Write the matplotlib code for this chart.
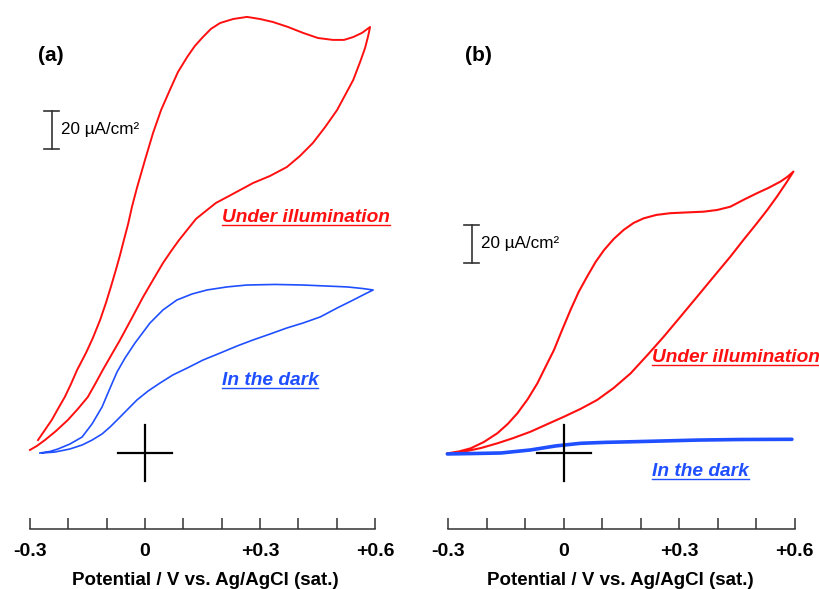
import matplotlib
matplotlib.use("Agg")
import matplotlib.pyplot as plt
from matplotlib.lines import Line2D

plt.rcParams['font.family'] = ['Liberation Sans', 'DejaVu Sans']

# potencial (V) a proudová hustota (uA/cm2)
# (a) pod osvětlením: dopředný a zpětný sken
a_red_fwd_v = [-0.279, -0.261, -0.243, -0.227, -0.209, -0.193, -0.177, -0.154, -0.136, -0.117,
               -0.102, -0.089, -0.076, -0.065, -0.055, -0.044, -0.034, -0.021, 0.000, 0.021,
               0.042, 0.065, 0.086, 0.110, 0.130, 0.151, 0.172, 0.196, 0.230, 0.266,
               0.300, 0.334, 0.373, 0.412, 0.451, 0.490, 0.519, 0.543, 0.566, 0.587]
a_red_fwd_i = [6.8, 12.1, 17.4, 23.2, 29.5, 36.3, 43.7, 52.6, 60.5, 70.0,
               78.9, 87.4, 96.3, 104.2, 112.1, 120.5, 129.5, 139.5, 154.2, 168.4,
               180.5, 191.1, 200.5, 208.4, 214.2, 218.9, 223.2, 226.3, 228.4, 229.5,
               228.4, 226.8, 224.2, 221.1, 218.4, 217.4, 217.4, 218.9, 221.1, 224.2]
a_red_back_v = [0.582, 0.574, 0.561, 0.543, 0.522, 0.501, 0.470, 0.438, 0.404, 0.370,
                0.326, 0.282, 0.248, 0.214, 0.185, 0.162, 0.133, 0.110, 0.089, 0.070,
                0.047, 0.021, -0.005, -0.034, -0.065, -0.089, -0.110, -0.130, -0.149, -0.175,
                -0.201, -0.232, -0.261, -0.282, -0.300]
a_red_back_i = [219.5, 213.2, 205.8, 196.3, 188.4, 180.5, 171.6, 163.2, 156.3, 150.5,
                145.8, 142.1, 138.4, 134.7, 131.6, 127.9, 123.2, 117.4, 112.1, 106.8,
                100.0, 91.1, 82.1, 71.1, 59.5, 51.1, 43.7, 36.3, 29.5, 23.2,
                17.4, 11.6, 6.8, 3.7, 1.6]

# (a) ve tmě
a_blue_fwd_v = [-0.274, -0.248, -0.227, -0.196, -0.164, -0.138, -0.112, -0.091, -0.073, -0.052,
                -0.026, 0.013, 0.047, 0.083, 0.123, 0.162, 0.214, 0.266, 0.339, 0.412,
                0.470, 0.527, 0.566, 0.595]
a_blue_fwd_i = [0.0, 0.8, 2.1, 4.7, 8.4, 15.3, 24.2, 34.2, 42.6, 50.0,
                57.9, 68.4, 75.3, 80.5, 83.7, 85.8, 87.4, 88.4, 88.7, 88.4,
                87.9, 87.4, 86.6, 85.8]
a_blue_back_v = [0.569, 0.543, 0.501, 0.457, 0.412, 0.370, 0.326, 0.282, 0.240, 0.196,
                 0.151, 0.110, 0.073, 0.039, 0.008, -0.021, -0.047, -0.070, -0.091, -0.112,
                 -0.138, -0.164, -0.196, -0.235, -0.269]
a_blue_back_i = [83.2, 80.5, 76.3, 71.6, 68.4, 65.8, 62.6, 59.5, 56.3, 52.6,
                 48.9, 44.7, 41.1, 36.8, 32.6, 27.9, 22.6, 17.9, 13.7, 10.0,
                 6.8, 4.2, 2.1, 0.5, 0.0]

# (b) pod osvětlením
b_red_fwd_v = [-0.302, -0.272, -0.241, -0.207, -0.172, -0.145, -0.120, -0.093, -0.068, -0.047,
               -0.025, -0.005, 0.018, 0.039, 0.061, 0.083, 0.105, 0.130, 0.156, 0.182,
               0.208, 0.241, 0.277, 0.319, 0.364, 0.399, 0.433, 0.467, 0.502, 0.532,
               0.563, 0.581, 0.597]
b_red_fwd_i = [-0.2, 0.8, 2.5, 5.8, 10.4, 15.3, 20.9, 28.4, 36.7, 45.3,
               54.2, 64.2, 75.3, 84.7, 92.8, 100.5, 106.8, 112.6, 117.4, 121.1,
               123.5, 125.3, 126.2, 126.6, 127.0, 127.9, 129.6, 133.2, 136.7, 139.5,
               142.8, 145.3, 148.1]
b_red_back_v = [0.578, 0.554, 0.529, 0.502, 0.467, 0.433, 0.389, 0.347, 0.303, 0.260,
                0.218, 0.174, 0.130, 0.087, 0.044, 0.001, -0.041, -0.086, -0.130, -0.172,
                -0.215, -0.259, -0.302]
b_red_back_i = [142.1, 134.9, 127.9, 120.9, 112.1, 103.3, 92.6, 82.3, 71.6, 61.2,
                51.6, 41.9, 34.2, 27.9, 23.2, 19.1, 15.3, 11.2, 7.9, 5.1,
                2.6, 0.7, -0.5]

# (b) ve tmě
b_blue_v = [-0.302, -0.241, -0.163, -0.086, -0.021, 0.044, 0.109, 0.174, 0.252, 0.347, 0.459, 0.593]
b_blue_i = [-0.5, -0.3, 0.0, 1.6, 3.7, 5.1, 5.6, 5.9, 6.3, 6.8, 7.1, 7.2]

tick_vals = [-0.3, -0.2, -0.1, 0.0, 0.1, 0.2, 0.3, 0.4, 0.5, 0.6]
tick_labels = ['-0.3', '', '', '0', '', '', '+0.3', '', '', '+0.6']

RED = '#ff1010'
BLUE = '#1f4fff'

W, H = 819, 589
fig = plt.figure(figsize=(W / 100, H / 100), dpi=100)

ax_a = fig.add_axes([10 / W, 60 / H, 390 / W, 529 / H])
ax_b = fig.add_axes([425 / W, 60 / H, 390 / W, 529 / H])

ax_a.set_xlim(-0.352, 0.665)
ax_b.set_xlim(-0.360, 0.653)
for ax in (ax_a, ax_b):
    ax.set_ylim(-40, 238.4)
    for s in ('top', 'right', 'left'):
        ax.spines[s].set_visible(False)
    ax.spines['bottom'].set_bounds(-0.3, 0.6)
    ax.spines['bottom'].set_color('#333333')
    ax.spines['bottom'].set_linewidth(1.1)
    ax.set_yticks([])
    ax.set_xticks(tick_vals)
    ax.set_xticklabels(tick_labels, fontsize=14, fontweight='bold')
    ax.tick_params(axis='x', direction='in', length=8, width=1.1, color='#333333', pad=10)
    ax.set_xlabel('Potential / V vs. Ag/AgCl (sat.)', fontsize=13.5, fontweight='bold', labelpad=8.5)
    ax.patch.set_alpha(0)

# (a)
ax_a.plot(a_red_fwd_v + a_red_back_v, a_red_fwd_i + a_red_back_i, color=RED, lw=1.4)
ax_a.plot(a_blue_fwd_v + a_blue_back_v, a_blue_fwd_i + a_blue_back_i, color=BLUE, lw=1.2)

# (b)
ax_b.plot(b_red_fwd_v + b_red_back_v, b_red_fwd_i + b_red_back_i, color=RED, lw=1.5)
ax_b.plot(b_blue_v, b_blue_i, color=BLUE, lw=2.6, solid_capstyle='round')

# křížky v počátku
for ax in (ax_a, ax_b):
    ax.plot([-0.07, 0.07], [0, 0], color='black', lw=1.6)
    ax.plot([0, 0], [-14.5, 14.5], color='black', lw=1.6)

# měřítko 20 uA/cm2
def scale_bar(ax, x, y0, cap):
    ax.plot([x, x], [y0, y0 + 20], color='#333333', lw=1.2)
    ax.plot([x - cap, x + cap], [y0, y0], color='#333333', lw=1.2)
    ax.plot([x - cap, x + cap], [y0 + 20, y0 + 20], color='#333333', lw=1.2)
    ax.text(x + 0.025, y0 + 10, '20 µA/cm²', fontsize=12.3, va='center', ha='left')

scale_bar(ax_a, -0.243, 160, 0.0196)
scale_bar(ax_b, -0.239, 100, 0.02)

ax_a.text(-0.28, 209, '(a)', fontsize=15, fontweight='bold', va='center')
ax_b.text(-0.255, 209, '(b)', fontsize=15, fontweight='bold', va='center')

labels = [
    ax_a.text(0.2, 123.7, 'Under illumination', color=RED, fontsize=13.8,
              fontweight='bold', style='italic', va='center'),
    ax_a.text(0.2, 38.4, 'In the dark', color=BLUE, fontsize=13.8,
              fontweight='bold', style='italic', va='center'),
    ax_b.text(0.23, 50.5, 'Under illumination', color=RED, fontsize=13.8,
              fontweight='bold', style='italic', va='center'),
    ax_b.text(0.23, -9.9, 'In the dark', color=BLUE, fontsize=13.8,
              fontweight='bold', style='italic', va='center'),
]

# podtržení popisků
fig.canvas.draw()
r = fig.canvas.get_renderer()
inv = fig.transFigure.inverted()
for t in labels:
    bb = t.get_window_extent(r)
    (x0, y0), (x1, _) = inv.transform([[bb.x0, bb.y0 + 1], [bb.x1, bb.y0 + 1]])
    fig.add_artist(Line2D([x0, x1], [y0, y0], transform=fig.transFigure,
                          color=t.get_color(), lw=1.0))

fig.savefig('out.png', dpi=100)
